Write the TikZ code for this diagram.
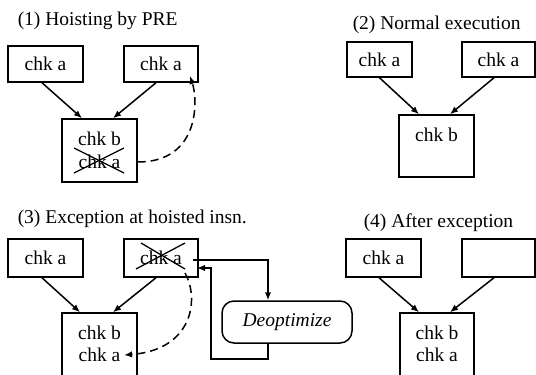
\documentclass[tikz,border=0pt]{standalone}
\usepackage{fontspec}
\setmainfont{Liberation Serif}
\usetikzlibrary{arrows.meta}
\begin{document}
\begin{tikzpicture}[x=1pt,y=-1pt,line width=1.5pt,
  fnt/.style={font=\fontsize{19.5}{22}\selectfont},
  box/.style={draw,rectangle,inner sep=0pt,fnt},
  txt/.style={inner sep=0pt,fnt},
  ttl/.style={anchor=base west,inner sep=0pt,fnt},
  arr/.style={-{Latex[length=8pt,width=6.5pt]}},
  dsh/.style={arr,dash pattern=on 8pt off 5pt},
  cross/.style={line width=1.3pt}]
\useasboundingbox (0,0) rectangle (536,375);

% ---------- (1)
\node[ttl] (t1) at (17,25) {(1) Hoisting by PRE};
\node[box,minimum width=75pt,minimum height=36pt] (a1) at (45.5,64) {chk a};
\node[box,minimum width=74pt,minimum height=36pt] (b1) at (161,64) {chk a};
\node[box,minimum width=75pt,minimum height=63pt] (c1) at (99.5,150.5) {};
\node[txt] (cb1) at (99.5,139) {chk b};
\node[txt] (ca1) at (99.5,162) {chk a};
\draw[cross] (74,148) -- (124,173);
\draw[cross] (74,173) -- (124,148);
\draw[arr] ([xshift=-3.5pt]a1.south) -- ([xshift=-17.5pt]c1.north);
\draw[arr] ([xshift=-5pt]b1.south) -- ([xshift=13.5pt]c1.north);
\coordinate (e1) at (190,76);
\draw[dsh] (c1.east |- ca1.center) .. controls (200,162) and (198,100) .. (e1);

% ---------- (2)
\node[ttl] (t2) at (352,29) {(2) Normal execution};
\node[box,minimum width=65pt,minimum height=35pt] (a2) at (379.5,59.5) {chk a};
\node[box,minimum width=73pt,minimum height=35pt] (b2) at (498.5,59.5) {chk a};
\node[box,minimum width=75pt,minimum height=62pt] (c2) at (436.5,146) {};
\node[txt] (cb2) at (436.5,135) {chk b};
\draw[arr] (a2.south) -- ([xshift=-17.5pt]c2.north);
\draw[arr] ([xshift=-4.5pt]b2.south) -- ([xshift=13.5pt]c2.north);

% ---------- (3)
\node[ttl] (t3) at (17,223) {(3) Exception at hoisted insn.};
\node[box,minimum width=75pt,minimum height=38pt] (a3) at (45.5,258) {chk a};
\node[box,minimum width=74pt,minimum height=38pt] (b3) at (161,258) {chk a};
\draw[cross] (136,269) -- (185,243);
\draw[cross] (141,243) -- (185,269);
\node[box,minimum width=75pt,minimum height=63pt] (c3) at (99.5,344.5) {};
\node[txt] (cb3) at (99.5,333) {chk b};
\node[txt] (ca3) at (99.5,355) {chk a};
\draw[arr] ([xshift=-3.5pt]a3.south) -- ([xshift=-19.5pt]c3.north);
\draw[arr] ([xshift=-5pt]b3.south) -- ([xshift=13.5pt]c3.north);
\coordinate (s3) at (185,273);
\draw[dsh] (s3) .. controls (200,300) and (192,350) .. ([xshift=3pt]ca3.east);
\node[draw,rounded corners=12pt,minimum width=130pt,minimum height=42pt,inner sep=0pt,fnt] (deo) at (287,322) {\itshape Deoptimize};
\coordinate (o3) at (193,260);
\coordinate (i3) at (197,268);
\draw[arr] (o3) -| ([xshift=-19pt]deo.north);
\draw[arr] ([xshift=-19pt]deo.south) -- ++(0,15) -- ++(-57,0) |- (i3);

% ---------- (4)
\node[ttl] (t4) at (363,227) {(4) After exception};
\node[box,minimum width=75pt,minimum height=38pt] (a4) at (383.5,258) {chk a};
\node[box,minimum width=73pt,minimum height=38pt] (b4) at (498.5,258) {};
\node[box,minimum width=74pt,minimum height=63pt] (c4) at (437,344.5) {};
\node[txt] (cb4) at (437,333) {chk b};
\node[txt] (ca4) at (437,355) {chk a};
\draw[arr] ([xshift=-4.5pt]a4.south) -- ([xshift=-18pt]c4.north);
\draw[arr] ([xshift=-4.5pt]b4.south) -- ([xshift=13pt]c4.north);
\end{tikzpicture}
\end{document}
